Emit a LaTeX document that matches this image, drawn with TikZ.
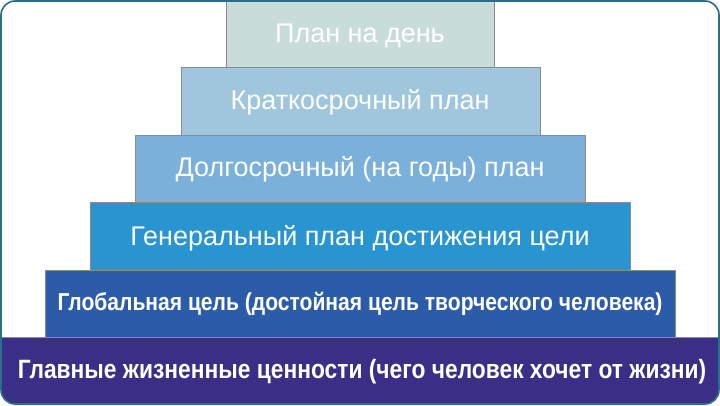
\documentclass[tikz,border=0pt]{standalone}
\usepackage{fontspec}
\setmainfont{Liberation Sans}
\begin{document}
\begin{tikzpicture}[x=1pt,y=-1pt,
  lvl/.style={draw=black!45,line width=0.6pt},
  lbl/.style={text=white,font=\fontsize{27}{31}\selectfont},
  blbl/.style={text=white,font=\fontsize{26.5}{30}\selectfont\bfseries,xscale=0.86,transform shape}]
\useasboundingbox (0,0) rectangle (720,405);
\begin{scope}
\clip[rounded corners=14pt] (1,1) rectangle (719,404);
\fill[white] (0,0) rectangle (720,405);
\fill[lvl,fill={rgb,255:red,200;green,220;blue,217}] (226,-2) rectangle (494,67);
\fill[lvl,fill={rgb,255:red,160;green,198;blue,222}] (181,67) rectangle (540,135);
\fill[lvl,fill={rgb,255:red,122;green,176;blue,218}] (135,135) rectangle (585,202);
\fill[lvl,fill={rgb,255:red,40;green,148;blue,208}] (90,202) rectangle (630,270);
\fill[lvl,fill={rgb,255:red,44;green,92;blue,168}] (45,270) rectangle (675,337);
\fill[lvl,fill={rgb,255:red,58;green,47;blue,134}] (-2,337) rectangle (722,407);
\end{scope}
\draw[rounded corners=14pt,line width=1.6pt,draw={rgb,255:red,42;green,110;blue,140}] (1,1) rectangle (719,404);
\node[lbl] (t1) at (360,36) {План на день};
\node[lbl] (t2) at (360,102) {Краткосрочный план};
\node[lbl] (t3) at (360,169) {Долгосрочный (на годы) план};
\node[lbl] (t4) at (360,238) {Генеральный план достижения цели};
\node[blbl,font=\fontsize{24.5}{28}\selectfont\bfseries] (t5) at (360,304) {Глобальная цель (достойная цель творческого человека)};
\node[blbl] (t6) at (362,372) {Главные жизненные ценности (чего человек хочет от жизни)};
\end{tikzpicture}
\end{document}
